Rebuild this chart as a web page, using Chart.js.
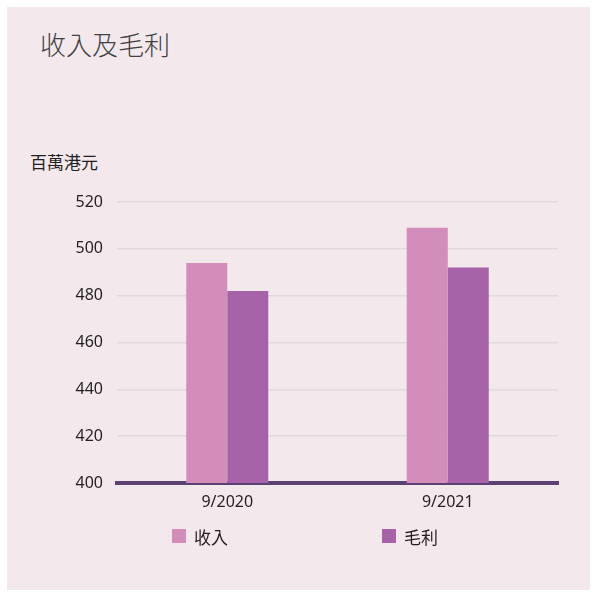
<!DOCTYPE html>
<html>
<head>
<meta charset="utf-8">
<script src="https://cdn.jsdelivr.net/npm/chart.js@4.4.1/dist/chart.umd.min.js"></script>
<style>
  html, body { margin: 0; padding: 0; background: #ffffff; }
  body { width: 597px; height: 596px; position: relative; overflow: hidden;
    font-family: 'Noto Sans', 'Noto Sans CJK TC', sans-serif; }
  #panel { position: absolute; left: 7px; top: 7px; width: 583px; height: 583px; background: #f3e8ec; }
  #wrap { position: absolute; left: 0; top: 0; width: 597px; height: 596px; }
  #title { position: absolute; left: 40px; top: 32px; font-size: 26px; line-height: 26px;
    font-weight: 300; color: #404040; white-space: nowrap; }
  #unit { position: absolute; left: 30px; top: 154px; font-size: 17px; line-height: 18px;
    color: #231f20; white-space: nowrap; }
  #legend { position: absolute; left: 172px; top: 527px; display: flex; }
  .item { width: 210px; display: flex; align-items: center; height: 18px;
    font-size: 17px; color: #231f20; }
  .box { width: 14px; height: 14px; margin-right: 8px; }
</style>
</head>
<body>
<div id="panel"></div>
<div id="title">收入及毛利</div>
<div id="unit">百萬港元</div>
<div id="wrap"><canvas id="chart" width="597" height="596"></canvas></div>
<div id="legend"></div>
<script>
  const categories = ['9/2020', '9/2021'];
  const revenue = [494, 509];
  const grossProfit = [482, 492];
  const yTicks = [400, 420, 440, 460, 480, 500, 520];

  const fontFamily = "'Noto Sans', 'Noto Sans CJK TC', sans-serif";

  const datasets = [
    {
      label: '收入',
      data: revenue,
      backgroundColor: '#d38dba',
      borderWidth: 0,
    },
    {
      label: '毛利',
      data: grossProfit,
      backgroundColor: '#a663a7',
      borderWidth: 0,
    },
  ];

  const ctx = document.getElementById('chart').getContext('2d');
  const myChart = new Chart(ctx, {
    type: 'bar',
    data: {
      labels: categories,
      datasets,
    },
    options: {
      responsive: false,
      animation: false,
      devicePixelRatio: 1,
      layout: {
        padding: { left: 0, right: 39, top: 202, bottom: 87 },
      },
      datasets: {
        bar: {
          barPercentage: 1,
          categoryPercentage: 0.372,
        },
      },
      plugins: {
        legend: { display: false },
        tooltip: { enabled: false },
        title: { display: false },
      },
      scales: {
        x: {
          z: 1,
          grid: { display: false, drawTicks: false },
          border: { display: true, color: '#5c4274', width: 4 },
          ticks: {
            color: '#231f20',
            padding: 10,
            font: { family: fontFamily, size: 16 },
          },
          afterFit: (scale) => { scale.height = 26; },
        },
        y: {
          min: yTicks[0],
          max: yTicks[yTicks.length - 1],
          afterBuildTicks: (scale) => { scale.ticks = yTicks.map((v) => ({ value: v })); },
          grid: { color: '#e0dadd', lineWidth: 1.5, drawTicks: false },
          border: { display: false },
          ticks: {
            color: '#231f20',
            padding: 14,
            font: { family: fontFamily, size: 16 },
          },
          afterFit: (scale) => { scale.width = 117; },
        },
      },
    },
  });

  // legend built from the chart's datasets
  const legend = document.getElementById('legend');
  myChart.data.datasets.forEach((ds) => {
    const item = document.createElement('div');
    item.className = 'item';
    const box = document.createElement('span');
    box.className = 'box';
    box.style.background = ds.backgroundColor;
    const text = document.createElement('span');
    text.textContent = ds.label;
    item.appendChild(box);
    item.appendChild(text);
    legend.appendChild(item);
  });
</script>
</body>
</html>
